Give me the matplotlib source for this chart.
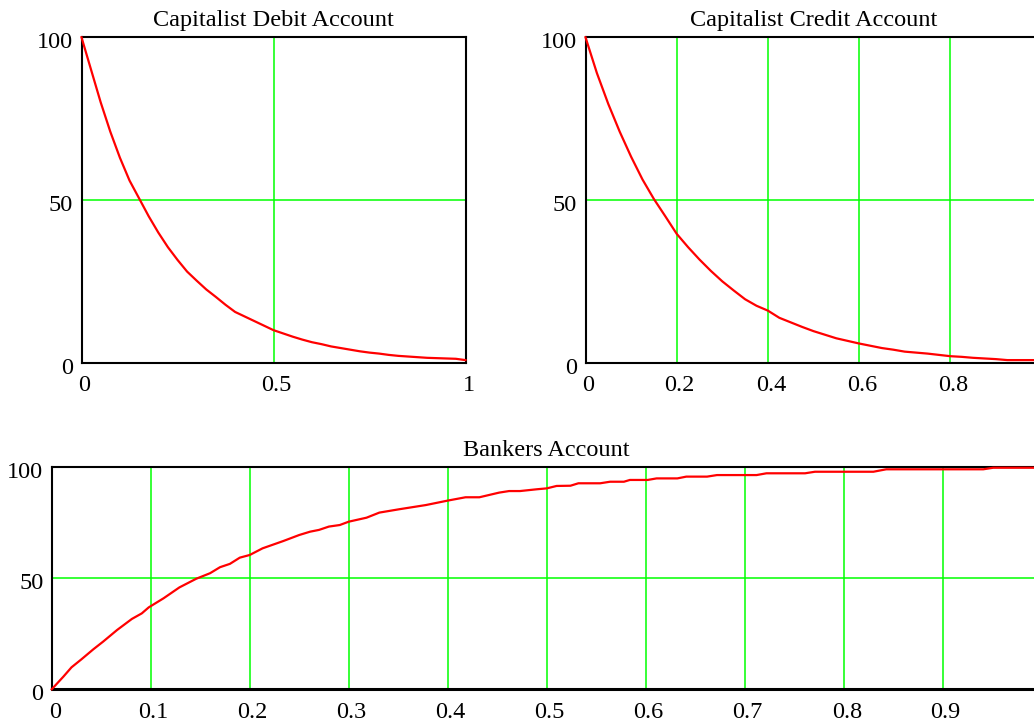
import matplotlib
matplotlib.use("Agg")
import matplotlib.pyplot as plt
from matplotlib.transforms import ScaledTranslation

# ---- data ----
debit_x = [0, 0.025, 0.05, 0.075, 0.1, 0.125, 0.15, 0.175, 0.2, 0.225, 0.25, 0.275, 0.3,
           0.325, 0.35, 0.375, 0.4, 0.425, 0.45, 0.475, 0.5, 0.525, 0.55, 0.575, 0.6,
           0.625, 0.65, 0.675, 0.7, 0.725, 0.75, 0.775, 0.8, 0.825, 0.85, 0.875, 0.9,
           0.925, 0.95, 0.975, 1.0]
debit_y = [100, 90, 80, 71, 63, 56, 50.5, 45, 40, 35.5, 31.6, 28, 25.2, 22.5, 20.2, 17.8,
           15.6, 14.2, 12.8, 11.4, 10.0, 9.0, 8.0, 7.1, 6.3, 5.7, 5.0, 4.5, 4.0, 3.5, 3.1,
           2.8, 2.4, 2.1, 1.9, 1.7, 1.5, 1.4, 1.3, 1.2, 0.8]

credit_x = debit_x
credit_y = [100, 89, 79.5, 71, 63.3, 56.3, 50.3, 45, 39.6, 35.5, 31.7, 28.2, 25, 22.2, 19.5,
            17.5, 16, 13.8, 12.4, 11, 9.7, 8.6, 7.5, 6.7, 5.9, 5.2, 4.5, 4.0, 3.4, 3.1, 2.8,
            2.4, 2.0, 1.8, 1.5, 1.3, 1.1, 0.8, 0.8, 0.8, 0.8]

bankers_x = [0, 0.0118, 0.02, 0.03, 0.042, 0.052, 0.066, 0.081, 0.091, 0.098, 0.113, 0.129,
             0.146, 0.16, 0.17, 0.18, 0.19, 0.2, 0.213, 0.234, 0.25, 0.261, 0.27, 0.28,
             0.291, 0.3, 0.318, 0.331, 0.351, 0.378, 0.4, 0.418, 0.432, 0.452, 0.462, 0.473,
             0.49, 0.5, 0.51, 0.524, 0.532, 0.554, 0.564, 0.578, 0.584, 0.602, 0.611, 0.632,
             0.641, 0.662, 0.672, 0.712, 0.722, 0.761, 0.771, 0.83, 0.843, 0.941, 0.951, 1.0]
bankers_y = [0, 5.7, 9.9, 13.5, 18, 21.5, 26.7, 31.7, 34.2, 36.9, 41, 45.9, 49.8, 52.3, 55,
             56.5, 59.3, 60.5, 63.5, 66.8, 69.5, 71, 71.8, 73.3, 74, 75.5, 77.3, 79.6, 81.1,
             83, 85, 86.5, 86.5, 88.6, 89.3, 89.3, 90.1, 90.5, 91.6, 91.7, 92.8, 92.8, 93.5,
             93.5, 94.3, 94.3, 95.0, 95.0, 95.8, 95.8, 96.5, 96.5, 97.3, 97.3, 98.0, 98.0,
             99.1, 99.1, 99.8, 99.8]

titles = ["Capitalist Debit Account", "Capitalist Credit Account", "Bankers Account"]
debit_xticks = [0, 0.5, 1]
credit_xticks = [0, 0.2, 0.4, 0.6, 0.8]
bankers_xticks = [0, 0.1, 0.2, 0.3, 0.4, 0.5, 0.6, 0.7, 0.8, 0.9]
yticks = [0, 50, 100]

plt.rcParams['font.family'] = ['Liberation Serif', 'DejaVu Serif']
FS = 17.5
GREEN = '#00ff00'
RED = '#ff0000'

fig = plt.figure(figsize=(10.34, 7.22), dpi=100)
W, H = 1034, 722

def make_ax(l, r, b, t):
    return fig.add_axes([l / W, 1 - b / H, (r - l) / W, (b - t) / H])

ax1 = make_ax(81.5, 465.5, 362.7, 37.3)
ax2 = make_ax(585.5, 1041.5, 362.7, 37.3)
ax3 = make_ax(51.7, 1041.7, 689.3, 467.3)

def style(ax, x, y, xt, title, grid_x, bottom_lw=1.5):
    ax.plot(x, y, color=RED, lw=1.6, zorder=3, clip_on=False)
    ax.set_xlim(0, 1)
    ax.set_ylim(0, 100)
    ax.set_xticks(xt)
    ax.set_xticklabels([('%g' % v) for v in xt])
    ax.set_yticks(yticks)
    ax.set_yticklabels([str(v) for v in yticks])
    ax.tick_params(axis='x', length=0, labelsize=FS, pad=9)
    ax.tick_params(axis='y', length=0, labelsize=FS, pad=6)
    off_x = ScaledTranslation(3 / 100, 0, fig.dpi_scale_trans)
    for lab in ax.get_xticklabels():
        lab.set_transform(lab.get_transform() + off_x)
    off_y = ScaledTranslation(0, -3 / 100, fig.dpi_scale_trans)
    for lab in ax.get_yticklabels():
        lab.set_transform(lab.get_transform() + off_y)
    for v in grid_x:
        ax.axvline(v, color=GREEN, lw=1.1, zorder=1)
    ax.axhline(50, color=GREEN, lw=1.1, zorder=1)
    ax.axhline(100, color=GREEN, lw=1.1, zorder=1, clip_on=False)
    for s in ax.spines.values():
        s.set_color('black')
        s.set_linewidth(1.5)
    ax.spines['bottom'].set_linewidth(bottom_lw)
    ax.set_title(title, fontsize=FS, pad=8)

style(ax1, debit_x, debit_y, debit_xticks, titles[0], [0.5])
style(ax2, credit_x, credit_y, credit_xticks, titles[1], [0.2, 0.4, 0.6, 0.8])
style(ax3, bankers_x, bankers_y, bankers_xticks, titles[2],
      [0.1, 0.2, 0.3, 0.4, 0.5, 0.6, 0.7, 0.8, 0.9], bottom_lw=2.2)

fig.savefig("out.png", dpi=100)
